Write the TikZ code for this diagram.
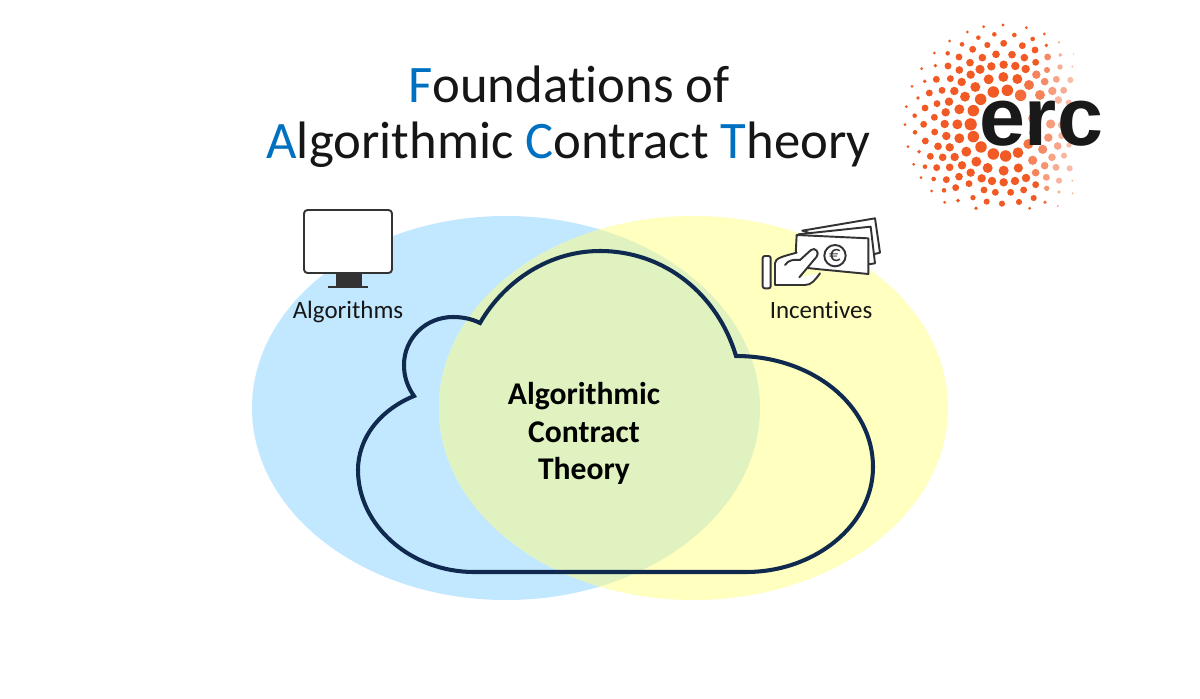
\documentclass[tikz,border=0pt]{standalone}
\usepackage{fontspec}
\setmainfont[Ligatures=NoCommon]{Carlito}
\newfontfamily\logofont{Liberation Sans}
\definecolor{blueset}{HTML}{C1E8FF}
\definecolor{yellowset}{HTML}{FFFFBF}
\definecolor{greenset}{HTML}{DFF2C0}
\definecolor{cloudline}{HTML}{10294F}
\definecolor{accent}{HTML}{0070C0}
\definecolor{inkdark}{HTML}{161616}
\definecolor{ercorange}{HTML}{F15A24}
\definecolor{iconline}{HTML}{333333}
\tikzset{
  titletext/.style={font=\fontsize{30}{36}\selectfont,text=inkdark,inner sep=0,anchor=base},
  labeltext/.style={font=\fontsize{14.2}{17}\selectfont,text=inkdark,inner sep=0,anchor=base},
  coretext/.style={font=\fontsize{18}{22}\selectfont\bfseries,text=black,inner sep=0,anchor=base},
  iconstroke/.style={draw=iconline,line width=1.1pt,line join=round,line cap=round},
  cloudstroke/.style={draw=cloudline,line width=2.3pt,miter limit=10}
}
\newcommand{\ac}[1]{\textcolor{accent}{#1}}
\begin{document}
\begin{tikzpicture}[x=0.02cm,y=-0.02cm]
\useasboundingbox (0,0) rectangle (1200,699);
\fill[white] (0,0) rectangle (1200,699);
% Venn sets
\fill[blueset] (506,408) ellipse [x radius=254,y radius=192];
\fill[yellowset] (693.5,408) ellipse [x radius=254.5,y radius=192];
\begin{scope}
  \clip (506,408) ellipse [x radius=254,y radius=192];
  \fill[greenset] (693.5,408) ellipse [x radius=254.5,y radius=192];
\end{scope}
% Cloud
\draw[cloudstroke] (414,396) .. controls (407,386) and (404,376) .. (404,365)
  .. controls (404,338) and (426,317) .. (453,317)
  .. controls (463,317) and (472,319) .. (480,323)
  .. controls (505,280) and (550,251) .. (600,251)
  .. controls (665,251) and (718,295) .. (736,356)
  .. controls (812,356) and (873,405) .. (873,467)
  .. controls (873,525) and (815,572) .. (746,572)
  -- (474,572)
  .. controls (410,572) and (358,525) .. (358,470)
  .. controls (358,438) and (380,410) .. (414,396) -- cycle;
% Titles and labels
\node[titletext] (title1) at (569,103) {\ac{F}oundations of};
\node[titletext] (title2) at (568.5,159) {\ac{A}lgorithmic \ac{C}ontract \ac{T}heory};
\node[labeltext] (algs) at (348,318.5) {Algorithms};
\node[labeltext] (incs) at (821,318) {Incentives};
\node[coretext] (core1) at (584,404) {Algorithmic};
\node[coretext] (core2) at (584,442) {Contract};
\node[coretext] (core3) at (584,479) {Theory};
% Monitor
\fill[iconline] (336,273) rectangle (362,286);
\fill[iconline] (328,285.5) rectangle (368,288);
\draw[iconstroke,fill=white,rounded corners=2pt] (304,210) rectangle (392,273);
% Bank notes and hand, in 3x crop coordinates
\begin{scope}[shift={(740,200)},x=0.006667cm,y=-0.006667cm]
  \draw[iconstroke,fill=white] (187,92) -- (405,55) -- (420,158) -- (400,163) -- cycle;
  \draw[iconstroke,fill=white] (175,103) -- (392,80) -- (405,190) -- (385,193) -- cycle;
  \draw[iconstroke,fill=white] (170,105) -- (385,115) -- (385,222) -- (240,208) -- (165,200) -- cycle;
  \draw[iconstroke] (285,167) circle (32);
  \node[inner sep=0,text=iconline,font=\fontsize{13}{13}\selectfont] (euro) at (285,167) {€};
  \draw[iconstroke,fill=white,rounded corners=1.2pt] (68,168) rectangle (92,265);
  \fill[white] (105,255) -- (105,190) .. controls (105,175) and (125,170) .. (170,158)
    -- (213,150) -- (232,165) -- (178,232) -- (240,220) .. controls (225,240) and (215,255) .. (195,255) -- cycle;
  \draw[iconstroke] (240,220) .. controls (225,240) and (215,255) .. (195,255) -- (105,255) -- (105,190)
    .. controls (105,175) and (125,170) .. (170,158);
  \draw[iconstroke] (135,195) .. controls (145,180) and (160,178) .. (180,180) -- (213,150)
    .. controls (225,140) and (240,158) .. (230,170) -- (178,232);
\end{scope}
% ERC logo dots, in 3x crop coordinates
\begin{scope}[shift={(890,10)},x=0.006667cm,y=-0.006667cm]
\foreach \dotx/\doty/\dotr/\pct in {
281/50/4/100,339/45/4/100,409/53/4/100,
232/66/4/100,265/83/6/100,313/73/6/100,373/75/6/100,428/87/6/100,463/72/4/100,
179/93/4/100,216/103/6/100,292/105/8/100,341/100/9/100,397/107/9/100,435/120/9/100,469/106/5/100,507/97/3/60,
133/129/4/100,173/130/6/100,248/118/9/100,277/143/10/100,318/133/10/100,366/134/10/100,403/143/10/100,473/141/9/70,511/135/5/50,550/132/2/40,
207/141/9/100,240/158/10/100,174/168/9/100,136/167/5/100,95/176/4/100,208/180/10/100,270/178/12/100,304/169/11/100,341/164/11/100,376/168/11/100,407/177/11/100,437/157/9/100,471/180/8/70,510/171/7/50,547/170/3/40,
104/214/5/100,139/208/9/100,181/206/9/100,215/216/11/100,242/194/11/100,296/208/13/100,340/201/13/100,382/207/13/100,417/225/13/85,439/194/11/75,464/215/10/70,499/208/9/55,541/210/8/40,
66/229/4/100,118/249/9/100,156/241/9/100,193/243/11/100,256/231/13/100,225/260/13/100,310/246/15/100,352/241/15/100,392/256/15/90,450/255/13/75,487/243/11/60,521/241/9/50,
84/264/5/100,141/281/9/100,177/275/11/100,272/268/15/100,505/270/10/45,536/278/8/40,
49/290/4/100,105/294/9/100,167/307/11/100,208/298/13/100,250/302/15/100,
74/317/6/100,133/322/9/100,
45/344/4/100,101/343/9/100,164/342/11/100,202/343/13/100,242/343/16/100,
75/367/6/100,134/366/9/100,169/378/11/100,208/385/13/100,250/380/15/100,
54/410/4/100,106/393/9/100,144/409/10/100,179/412/11/100,229/425/13/100,273/411/15/100,310/432/15/100,347/438/15/100,384/428/14/100,415/402/13/85,458/418/12/70,503/408/10/55,537/405/7/40,
87/425/5/100,121/439/9/100,158/442/10/100,194/441/11/100,259/455/13/100,428/451/12/75,486/442/10/55,522/437/8/45,
71/463/4/100,105/470/6/100,140/473/9/100,179/472/10/100,216/466/11/100,293/474/13/100,341/482/13/100,385/474/12/100,464/467/10/65,498/472/9/50,539/475/8/40,
93/503/4/100,131/507/6/100,169/509/9/100,207/500/10/100,242/488/11/100,275/505/11/100,306/513/11/100,341/517/11/100,375/513/11/100,408/504/11/100,437/488/10/75,469/502/9/60,507/512/8/45,
125/543/4/100,162/541/6/100,197/533/9/100,237/521/9/100,282/540/9/100,316/547/9/100,362/547/9/100,401/540/9/100,437/524/9/100,470/535/7/65,507/546/5/45,547/512/3/40,548/550/3/40,
164/577/4/100,204/572/5/100,249/563/7/100,290/575/8/100,336/581/8/100,387/576/8/100,431/564/8/100,465/577/5/85,503/588/3/50,
258/595/5/100,419/595/4/100,
428/325/12/70,432/368/13/75,482/342/12/60,515/345/10/45,515/377/9/45,475/383/11/65,440/385/11/75}{
  \fill[ercorange!\pct!white] (\dotx,\doty) circle ({\dotr*1.15});
}
\end{scope}
\node[inner sep=0,anchor=base,text=black!90,font=\logofont\bfseries\fontsize{47}{47}\selectfont] (erc) at (1041,146) {erc};
\end{tikzpicture}
\end{document}
